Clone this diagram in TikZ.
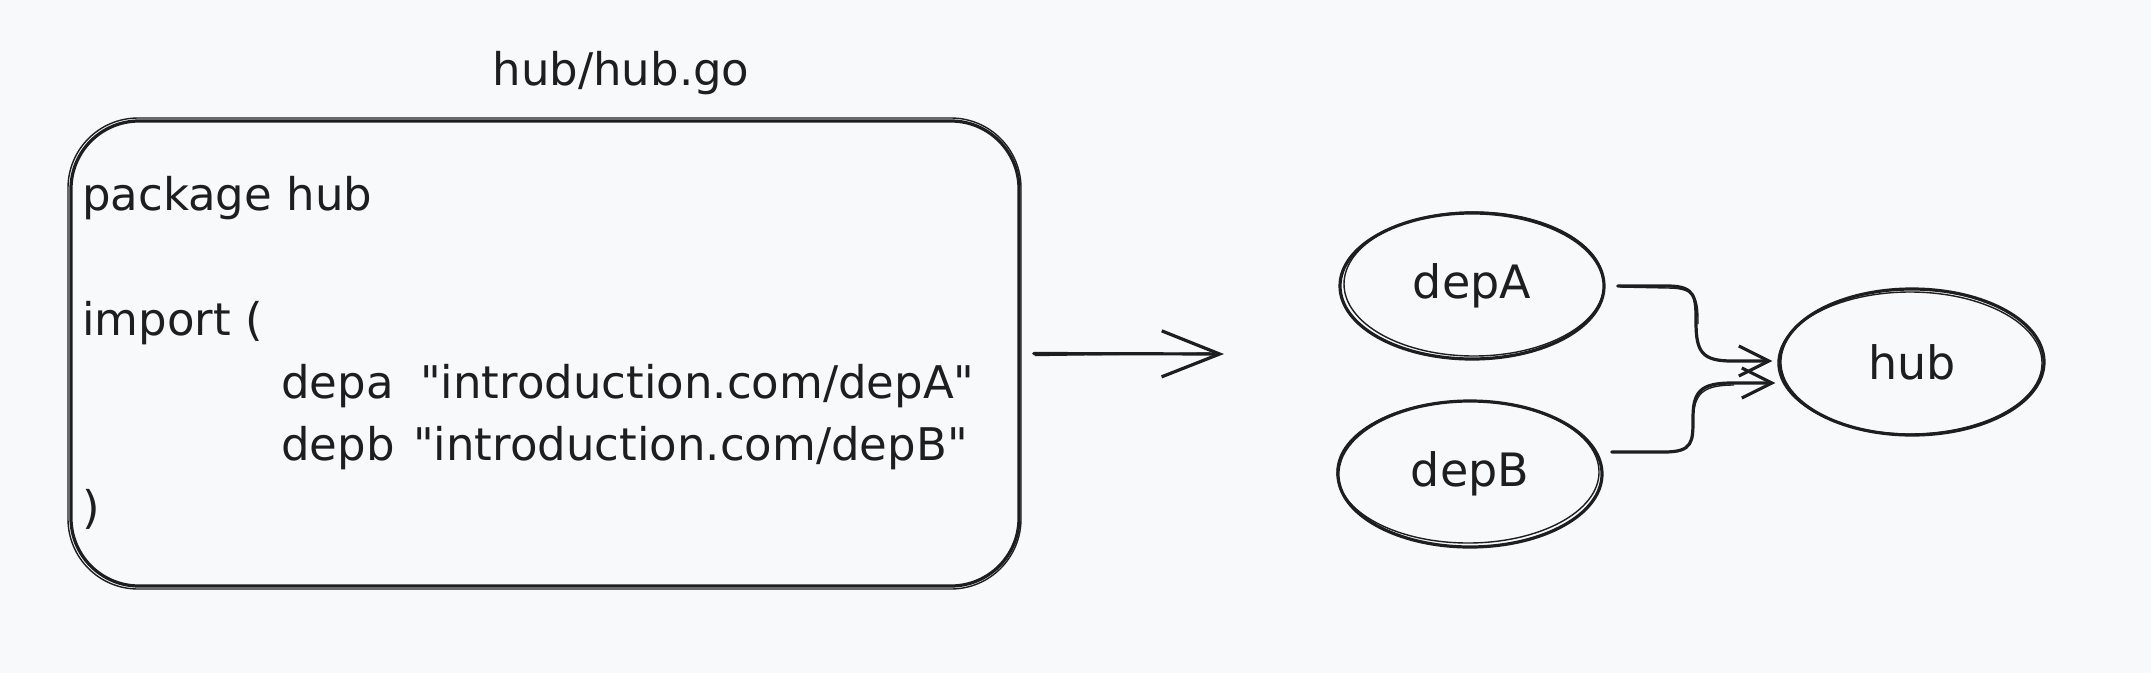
\documentclass[tikz,border=0pt]{standalone}
\usepackage{fontspec}
\setmainfont{DejaVu Sans}[Ligatures=TeXOff]
\usetikzlibrary{arrows.meta,shapes.geometric,calc}
\definecolor{bg}{HTML}{F8F9FA}
\definecolor{ink}{HTML}{1E1E1E}
\begin{document}
\begin{tikzpicture}[x=1pt,y=-1pt,
  stroke/.style={draw=ink, line width=3.2pt},
  sketch/.style={draw=ink, line width=1.4pt},
  txt/.style={text=ink, font=\fontsize{45}{54}\selectfont, inner sep=0pt},
  oval/.style={stroke, ellipse, minimum width=264pt, minimum height=146pt, inner sep=0pt, text=ink, font=\fontsize{46}{55}\selectfont},
  codebox/.style={stroke, rectangle, rounded corners=68pt, minimum width=948pt, minimum height=465pt, inner sep=0pt},
  bigarrow/.style={stroke, line cap=round, -{Straight Barb[length=58pt,width=46pt,line width=3.2pt]}},
  smallarrow/.style={stroke, line cap=round, -{Straight Barb[length=30pt,width=30pt,line width=3.2pt]}}
]
\fill[bg] (0,0) rectangle (2151,673);
\useasboundingbox (0,0) rectangle (2151,673);

% code box
\node[codebox] (box) at (545,353.5) {};
\draw[sketch, rounded corners=70pt] (68,118) rectangle (1021,589);

\node[txt, anchor=base] (title) at (621,85) {hub/hub.go};

\node[txt, anchor=base west] (l1) at (82,210) {package hub};
\node[txt, anchor=base west] (l3) at (82,335) {import (};
\node[txt, anchor=base west] (l4a) at (281,398) {depa};
\node[txt, anchor=base west] (l4b) at (420,398) {"introduction.com/depA"};
\node[txt, anchor=base west] (l5a) at (281,460) {depb};
\node[txt, anchor=base west] (l5b) at (413,460) {"introduction.com/depB"};
\node[txt, anchor=base west] (l6) at (82,523) {)};

% main arrow
\coordinate (mainend) at (1224,354);
\draw[bigarrow] ($(box.east)+(13,0)$) -- (mainend);
\draw[sketch] ($(box.east)+(14,2)$) -- (1210,353);

% ellipses
\node[oval] (depA) at (1472,286) {depA};
\node[oval] (depB) at (1470,474) {depB};
\node[oval] (hub) at (1912,362) {hub};
\draw[sketch] ($(depA.center)+(2,-2)$) ellipse [x radius=130, y radius=72];
\draw[sketch] ($(depB.center)+(-2,-2)$) ellipse [x radius=131, y radius=71];
\draw[sketch] ($(hub.center)+(-2,1)$) ellipse [x radius=132, y radius=71];

% connectors
\coordinate (sA) at ($(depA.east)+(12,0)$);
\coordinate (eA) at ($(hub.west)+(-6,-1)$);
\coordinate (sB) at ($(depB.east)+(8,-22)$);
\coordinate (eB) at ($(hub.west)+(-3,21)$);
\draw[smallarrow] (sA) -- (1668,286) .. controls (1696,286) and (1696,298) .. (1696,322)
   .. controls (1696,352) and (1702,361) .. (1732,361) -- (eA);
\draw[smallarrow] (sB) -- (1664,452) .. controls (1693,452) and (1693,442) .. (1693,418)
   .. controls (1693,392) and (1700,383) .. (1732,383) -- (eB);
\draw[sketch] (1620,287) -- (1668,288) .. controls (1697,288) and (1698,300) .. (1698,324);
\draw[sketch] (1693,420) .. controls (1694,394) and (1702,385) .. (1734,385);
\end{tikzpicture}
\end{document}
